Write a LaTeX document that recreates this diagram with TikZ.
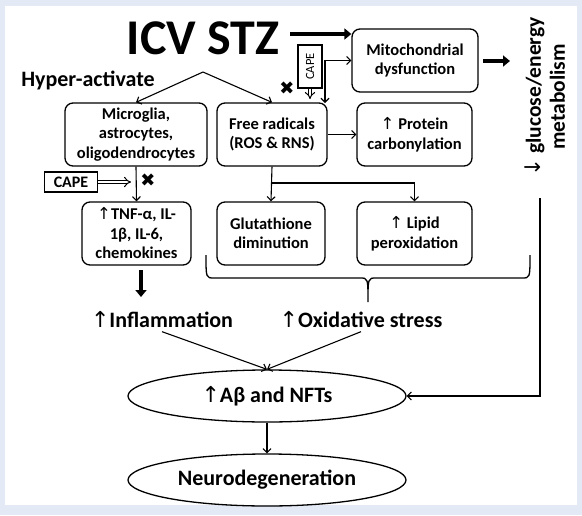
\documentclass[tikz,border=0pt]{standalone}
\usepackage{fontspec}
\setmainfont{Carlito}
\newfontfamily\symfont{DejaVu Sans}
\usepackage{tikz}
\usetikzlibrary{positioning}
\usetikzlibrary{arrows.meta}
\usetikzlibrary{shapes.geometric}
\definecolor{framebg}{RGB}{228,233,246}
\newcommand{\upar}{{\symfont\mdseries ↑}}
\newcommand{\downar}{{\symfont\mdseries ↓}}
\newcommand{\crossmark}{{\symfont\fontsize{18}{18}\selectfont ✖}}

\begin{document}
\begin{tikzpicture}[x=1pt,y=-1pt,font=\bfseries,
    >={Straight Barb[length=4pt,width=8pt]},
    box/.style={draw,rounded corners=8pt,line width=1.3pt,align=center,minimum height=63pt,inner sep=2pt,font=\fontsize{16.5}{19.5}\selectfont\bfseries},
    oval/.style={ellipse,draw,line width=1.3pt,minimum width=278pt,minimum height=52pt,font=\fontsize{22}{24}\selectfont\bfseries},
    capebox/.style={draw,line width=1.1pt,inner sep=1pt,font=\fontsize{16}{16}\selectfont\bfseries},
    bigtext/.style={font=\fontsize{22}{24}\selectfont\bfseries},
    arr/.style={line width=1.1pt,->},
    bigarr/.style={line width=4.5pt,-{Triangle[length=7pt,width=11pt]}},
    hollow/.style={double,double distance=2.5pt,line width=1pt,-{Implies}}]
    % frame
    \fill[framebg] (0,0) rectangle (582,515);
    \fill[white] (5,6) rectangle (577,505);
    % nodes
    \node[font=\fontsize{50}{50}\selectfont\bfseries] (icv) at (203,38) {ICV STZ};
    \node[bigtext] (hyper) at (88,80) {Hyper-activate};
    \node[box,minimum width=142pt] (micro) at (136,134.5) {Microglia,\\astrocytes,\\oligodendrocytes};
    \node[box,minimum width=110pt] (free) at (272,134.5) {Free radicals\\(ROS \& RNS)};
    \node[box,minimum width=115pt] (prot) at (414.5,134.5) {\upar{} Protein\\carbonylation};
    \node[box,minimum width=126pt] (mito) at (415,60.5) {Mitochondrial\\dysfunction};
    \node[box,minimum width=109pt] (tnf) at (136.5,233.5) {\upar TNF-α, IL-\\1β, IL-6,\\chemokines};
    \node[box,minimum width=108pt] (glut) at (271,233.5) {Glutathione\\diminution};
    \node[box,minimum width=115pt] (lipid) at (414.5,233.5) {\upar{} Lipid\\peroxidation};
    \node[bigtext,rotate=90,align=center,font=\fontsize{21.5}{24}\selectfont\bfseries] (gluc) at (545,97) {\downar{} glucose/energy\\metabolism};
    \node[bigtext] (inflam) at (162,320) {\upar Inflammation};
    \node[bigtext] (oxid) at (361,320) {\upar Oxidative stress};
    \node[oval] (abeta) at (267,396) {\upar Aβ and NFTs};
    \node[oval] (neuro) at (267,480) {Neurodegeneration};
    % CAPE
    \node[capebox,rotate=90,minimum width=43pt,minimum height=24pt,font=\fontsize{12.5}{13}\selectfont] (capeA) at (310,66.5) {CAPE};
    \node[capebox,minimum width=53pt,minimum height=20pt] (capeB) at (71,182) {CAPE};
    \node (xA) at (287,88) {\crossmark};
    \node (xB) at (148,180) {\crossmark};
    % points
    \coordinate (apex) at (203,72);
    \coordinate (icvout) at (290,34);
    \coordinate (freetop) at (325,103);
    \coordinate (split) at (272,183);
    \coordinate (tnfout) at (141,270);
    \coordinate (inflamin) at (141,297);
    \coordinate (mitoout) at (483,61);
    \coordinate (glucin) at (510,61);
    \coordinate (gluclow) at (540,198);
    \coordinate (capeAtip) at (310,99);
    \coordinate (capeBtip) at (131,182);
    % arrows
    \draw[bigarr] (icvout) -- (mito.west |- icvout);
    \draw[bigarr] (mitoout) -- (glucin);
    \draw[bigarr] (tnfout) -- (inflamin);
    \draw[arr] (apex) -- (micro.north);
    \draw[arr] (apex) -- (free.north);
    \draw[arr,<->] (mito.west) -| (freetop);
    \draw[arr] (free.east) -- (prot.west);
    \draw[arr] (free.south) -- (glut.north);
    \draw[arr] (split) -| (lipid.north);
    \draw[arr] (micro.south) -- (tnf.north);
    \draw[arr] (inflam.south) -- (abeta.north);
    \draw[arr] (oxid.south) -- (abeta.north);
    \draw[arr] (gluclow) |- (abeta.east);
    \draw[arr] (abeta.south) -- (neuro.north);
    \draw[hollow] (capeA.west) -- (capeAtip);
    \draw[hollow] (capeB.east) -- (capeBtip);
    % brace
    \draw[line width=1.3pt] (206,255) .. controls (206,278) .. (214,278) -- (360,278)
        .. controls (368,278) .. (368,302) .. controls (368,278) .. (376,278) -- (522,278)
        .. controls (530,278) .. (530,255);
\end{tikzpicture}
\end{document}
